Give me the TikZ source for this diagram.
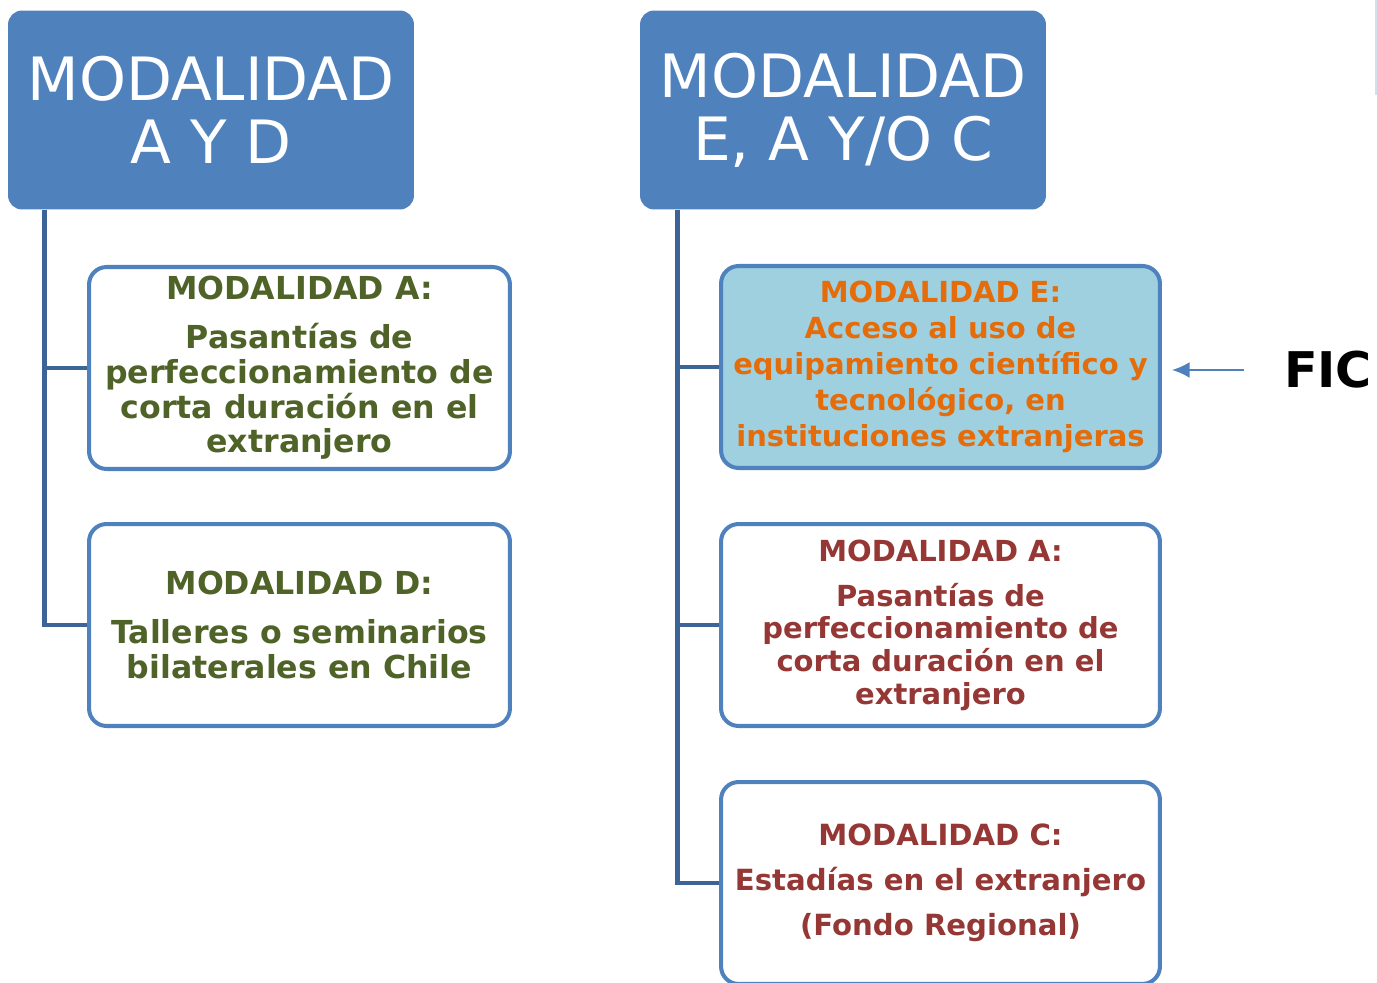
\documentclass[tikz,border=0pt]{standalone}
\usepackage{fontspec}
\setmainfont{DejaVu Sans}
\usetikzlibrary{arrows.meta}
\definecolor{headblue}{RGB}{79,129,189}
\definecolor{trunkblue}{RGB}{60,100,150}
\definecolor{lightcyan}{RGB}{158,208,224}
\definecolor{olivetext}{RGB}{79,98,40}
\definecolor{orangetext}{RGB}{228,108,10}
\definecolor{redtext}{RGB}{149,55,53}
\begin{document}
\begin{tikzpicture}[x=0.02cm, y=-0.02cm,
  modhead/.style = {shape=rectangle, rounded corners=8pt, fill=headblue,
    text=white, align=center, minimum width=8.12cm, minimum height=3.98cm,
    font=\fontsize{34}{35.7}\selectfont},
  modbox/.style = {shape=rectangle, rounded corners=10pt, draw=headblue,
    line width=2.3pt, fill=white, align=center, minimum height=4.04cm},
  trunk/.style = {draw=trunkblue, line width=2.8pt},
  ficarrow/.style = {draw=headblue, line width=1.1pt,
    -{Latex[length=10pt,width=9pt]}}]
  \useasboundingbox (0,0) rectangle (1377,983);
  % headers
  \node[modhead] (headL) at (211,110) {MODALIDAD\\A Y D};
  \node[modhead] (headR) at (843,110) {MODALIDAD\\E, A Y/O C};
  % left column
  \node[modbox, minimum width=8.42cm, text=olivetext,
    font=\bfseries\fontsize{18}{19.8}\selectfont] (boxLA) at (299.5,368)
    {MODALIDAD A:\\[8pt]
     Pasantías de\\ perfeccionamiento de\\ corta duración en el\\ extranjero};
  \node[modbox, minimum width=8.42cm, text=olivetext,
    font=\bfseries\fontsize{18}{19.8}\selectfont] (boxLD) at (299.5,625)
    {MODALIDAD D:\\[8.5pt]
     Talleres o seminarios\\ bilaterales en Chile};
  % right column
  \node[modbox, minimum width=8.78cm, fill=lightcyan, text=orangetext,
    font=\bfseries\fontsize{16.5}{20.4}\selectfont] (boxRE) at (940.5,367)
    {MODALIDAD E:\\ Acceso al uso de\\
     equipamiento científico y\\ tecnológico, en\\ instituciones extranjeras};
  \node[modbox, minimum width=8.78cm, text=redtext,
    font=\bfseries\fontsize{16.5}{18.6}\selectfont] (boxRA) at (940.5,625)
    {MODALIDAD A:\\[7pt]
     Pasantías de\\ perfeccionamiento de\\ corta duración en el\\ extranjero};
  \node[modbox, minimum width=8.78cm, text=redtext,
    font=\bfseries\fontsize{16.6}{20}\selectfont] (boxRC) at (940.5,883)
    {MODALIDAD C:\\[5.5pt]
     Estadías en el extranjero\\[5.5pt] (Fondo Regional)};
  % tree lines
  \draw[trunk] ([xshift=0.74cm]headL.south west) |- (boxLA.west);
  \draw[trunk] ([xshift=0.74cm]headL.south west) |- (boxLD.west);
  \draw[trunk] ([xshift=0.76cm]headR.south west) |- (boxRE.west);
  \draw[trunk] ([xshift=0.76cm]headR.south west) |- (boxRA.west);
  \draw[trunk] ([xshift=0.76cm]headR.south west) |- (boxRC.west);
  % FIC label
  \node[inner sep=0pt, font=\fontsize{28}{30}\selectfont\bfseries] (fic) at (1328,370) {FIC};
  \draw[ficarrow, shorten <=0.8cm, shorten >=0.2cm] (fic.west) -- (fic.west -| boxRE.east);
  % edge mark
  \draw[draw=headblue!25, line width=0.6pt] (1376,0) -- (1376,95);
\end{tikzpicture}
\end{document}
